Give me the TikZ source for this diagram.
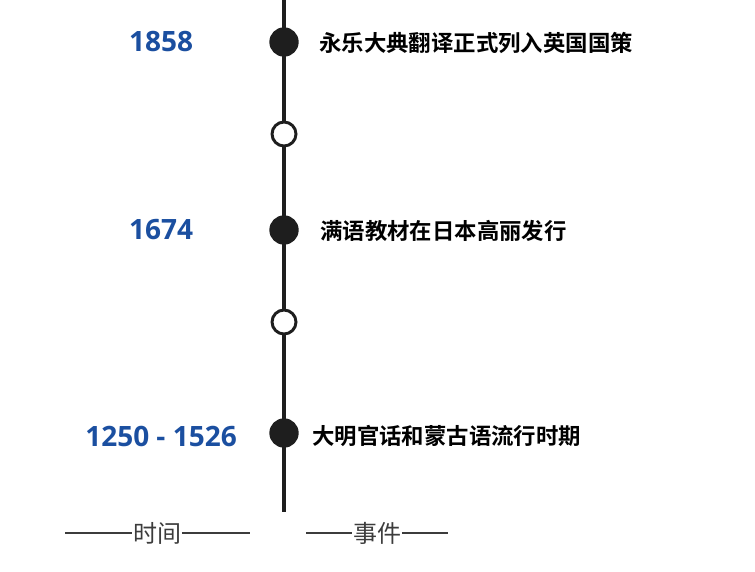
\documentclass[tikz,border=0pt]{standalone}
\usepackage{fontspec}
\setmainfont{Open Sans}[BoldFont={Open Sans Bold}]
\newfontfamily\cjk{Noto Sans CJK SC}[BoldFont={Noto Sans CJK SC Bold}]
\usetikzlibrary{positioning}
\definecolor{yearblue}{HTML}{1B4FA0}
\definecolor{axisgray}{HTML}{1E1E1E}
\definecolor{footgray}{HTML}{3C3C3C}

\begin{document}
\begin{tikzpicture}[x=0.75pt,y=-0.75pt,
    year/.style={font=\bfseries\fontsize{21}{25}\selectfont, text=yearblue},
    event/.style={anchor=west, inner sep=0pt, font=\cjk\bfseries\fontsize{16.8}{20}\selectfont},
    fulldot/.style={circle, draw=axisgray, fill=axisgray, line width=2pt, minimum size=20pt, inner sep=0pt},
    opendot/.style={circle, draw=axisgray, fill=white, line width=2.2pt, minimum size=18pt, inner sep=0pt},
    foot/.style={font=\cjk\fontsize{18}{22}\selectfont, text=footgray, inner sep=0.5pt},
    footline/.style={draw=footgray, line width=2.2pt}
]
\useasboundingbox (0,0) rectangle (755,571);

% timeline axis
\coordinate (top) at (284,0);
\coordinate (bottom) at (284,512);
\draw[axisgray, line width=2.3pt] (top) -- (bottom);

% events
\node[fulldot] (d1858) at (284,42) {};
\node[opendot] (gap1) at (284,134) {};
\node[fulldot] (d1674) at (284,230) {};
\node[opendot] (gap2) at (284,322) {};
\node[fulldot] (d1250) at (284,433) {};

\node[year] (y1858) at (161,42) {1858};
\node[year] (y1674) at (161,230) {1674};
\node[year] (y1250) at (161,436) {1250 - 1526};

\node[event] (e1858) at (319,43) {永乐大典翻译正式列入英国国策};
\node[event] (e1674) at (320,231) {满语教材在日本高丽发行};
\node[event] (e1250) at (312,436) {大明官话和蒙古语流行时期};

% footer
\node[foot] (time) at (157,533) {时间};
\coordinate (timeL) at (65,533);
\coordinate (timeR) at (250,533);
\draw[footline] (timeL) -- (time.west);
\draw[footline] (time.east) -- (timeR);

\node[foot] (event) at (377,533) {事件};
\coordinate (eventL) at (306,533);
\coordinate (eventR) at (448,533);
\draw[footline] (eventL) -- (event.west);
\draw[footline] (event.east) -- (eventR);
\end{tikzpicture}
\end{document}
